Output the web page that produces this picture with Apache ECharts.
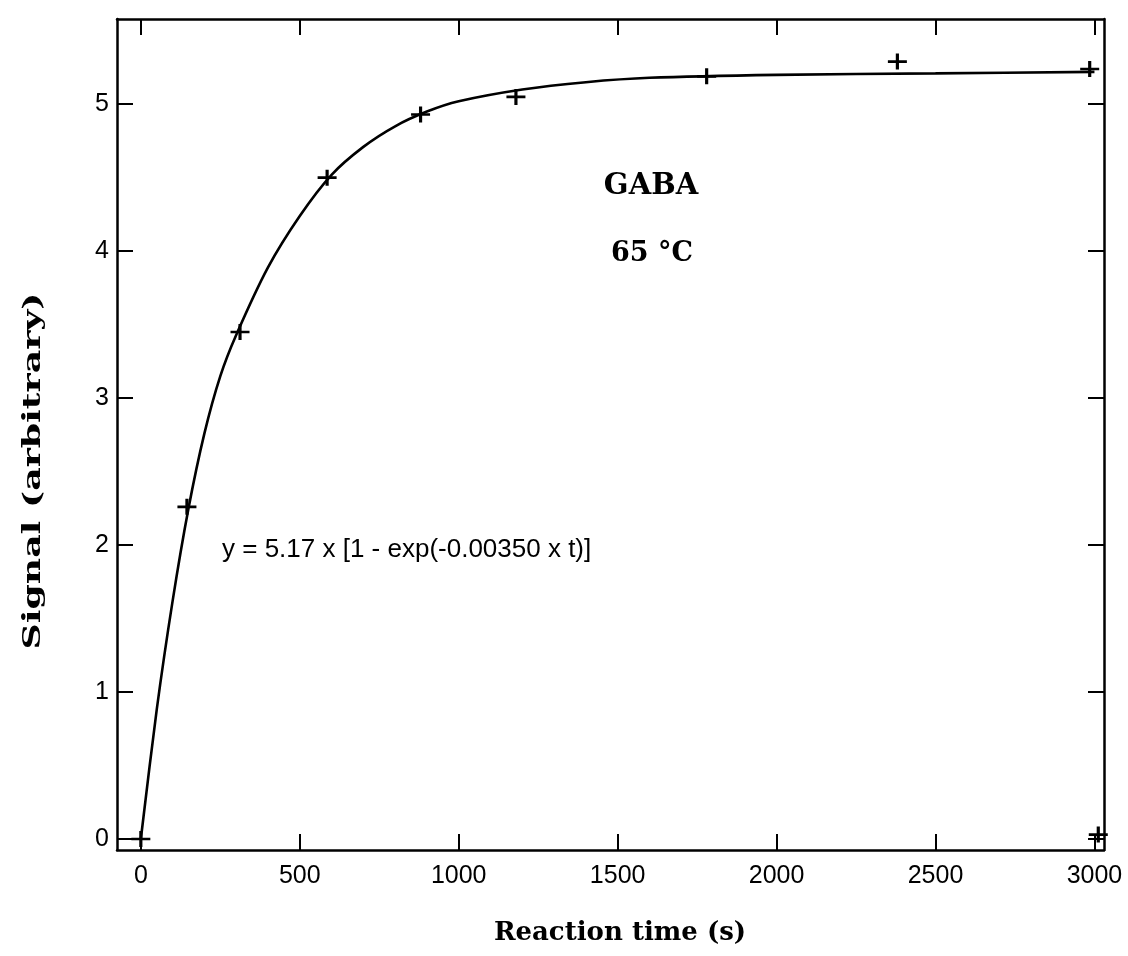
<!DOCTYPE html>
<html>
<head>
<meta charset="utf-8">
<script src="https://cdn.jsdelivr.net/npm/echarts@6/dist/echarts.min.js"></script>
<style>
html,body{margin:0;padding:0;background:#fff;}
#chart{width:1128px;height:956px;}
</style>
</head>
<body>
<div id="chart"></div>
<script>
// Measured data points (reaction time s, signal)
const pointTimes = [0, 145, 312, 586, 880, 1180, 1780, 2380, 2985, 3012];
const pointSignals = [0, 2.26, 3.45, 4.50, 4.93, 5.05, 5.19, 5.29, 5.24, 0.03];
// Fitted curve
const curveTimes = [0, 50, 100, 150, 200, 250, 300, 400, 500, 600, 700, 800, 900, 1000, 1200, 1400, 1600, 2000, 2500, 3000];
const curveSignals = [0, 0.88, 1.62, 2.25, 2.76, 3.15, 3.43, 3.89, 4.24, 4.52, 4.71, 4.85, 4.95, 5.02, 5.10, 5.15, 5.18, 5.20, 5.21, 5.22];
// Tick values
const xTicks = [0, 500, 1000, 1500, 2000, 2500, 3000];
const yTicks = [0, 1, 2, 3, 4, 5];
// Texts
const xTitle = 'Reaction time (s)';
const yTitle = 'Signal (arbitrary)';
const compoundLabel = 'GABA';
const tempLabel = '65 °C';
const fitLabel = 'y = 5.17 x [1 - exp(-0.00350 x t)]';

const X_MIN = -75, X_MAX = 3030, Y_MIN = -0.075, Y_MAX = 5.58;
const sansFont = '"Liberation Sans", Arial, Helvetica, sans-serif';
const serifFont = '"DejaVu Serif", "Liberation Serif", serif';

const chart = echarts.init(document.getElementById('chart'), null, {renderer: 'canvas'});

function xAxisDef(pos, showLabel) {
  return {
    type: 'value', position: pos, min: X_MIN, max: X_MAX,
    axisLine: {show: true, onZero: false, lineStyle: {color: '#000', width: 2.5}},
    axisTick: {show: true, inside: true, length: 16, lineStyle: {color: '#000', width: 2}, customValues: xTicks},
    axisLabel: {show: showLabel, customValues: xTicks, margin: 14, color: '#000', fontSize: 25, fontFamily: sansFont,
      formatter: v => String(v)},
    splitLine: {show: false}
  };
}
function yAxisDef(pos, showLabel) {
  return {
    type: 'value', position: pos, min: Y_MIN, max: Y_MAX,
    axisLine: {show: true, onZero: false, lineStyle: {color: '#000', width: 2.5}},
    axisTick: {show: true, inside: true, length: 16, lineStyle: {color: '#000', width: 2}, customValues: yTicks},
    axisLabel: {show: showLabel, customValues: yTicks, margin: 8, color: '#000', fontSize: 25, fontFamily: sansFont,
      formatter: v => String(v)},
    splitLine: {show: false}
  };
}

const crossPath = 'path://M0,7.5H7.5V0H10.5V7.5H18V10.5H10.5V18H7.5V10.5H0Z';

chart.setOption({
  animation: false,
  backgroundColor: '#fff',
  grid: {left: 117, right: 24, top: 19, bottom: 106, containLabel: false},
  xAxis: [xAxisDef('bottom', true), xAxisDef('top', false)],
  yAxis: [yAxisDef('left', true), yAxisDef('right', false)],
  series: [
    {
      type: 'line', name: 'fit', xAxisIndex: 0, yAxisIndex: 0,
      data: curveTimes.map((t, i) => [t, curveSignals[i]]),
      smooth: 0.3, showSymbol: false, symbol: 'none',
      lineStyle: {color: '#000', width: 2.6}
    },
    {
      type: 'scatter', name: 'data', xAxisIndex: 0, yAxisIndex: 0,
      data: pointTimes.map((t, i) => [t, pointSignals[i]]),
      symbol: crossPath, symbolSize: [19, 16],
      itemStyle: {color: '#000', opacity: 1}
    }
  ],
  graphic: [
    {type: 'text', x: 620, y: 933, style: {text: xTitle, fill: '#000', font: 'bold 26px ' + serifFont, textAlign: 'center', textVerticalAlign: 'middle'}},
    {type: 'text', x: 33, y: 471, rotation: Math.PI / 2, scaleX: 1.45, style: {text: yTitle, fill: '#000', font: 'bold 25px ' + serifFont, textAlign: 'center', textVerticalAlign: 'middle'}},
    {type: 'text', x: 651, y: 186, style: {text: compoundLabel, fill: '#000', font: 'bold 29px ' + serifFont, textAlign: 'center', textVerticalAlign: 'middle'}},
    {type: 'text', x: 652, y: 254, style: {text: tempLabel, fill: '#000', font: 'bold 27px ' + serifFont, textAlign: 'center', textVerticalAlign: 'middle'}},
    {type: 'text', x: 222, y: 550, style: {text: fitLabel, fill: '#000', font: '26px ' + sansFont, textAlign: 'left', textVerticalAlign: 'middle'}}
  ]
});
</script>
</body>
</html>
